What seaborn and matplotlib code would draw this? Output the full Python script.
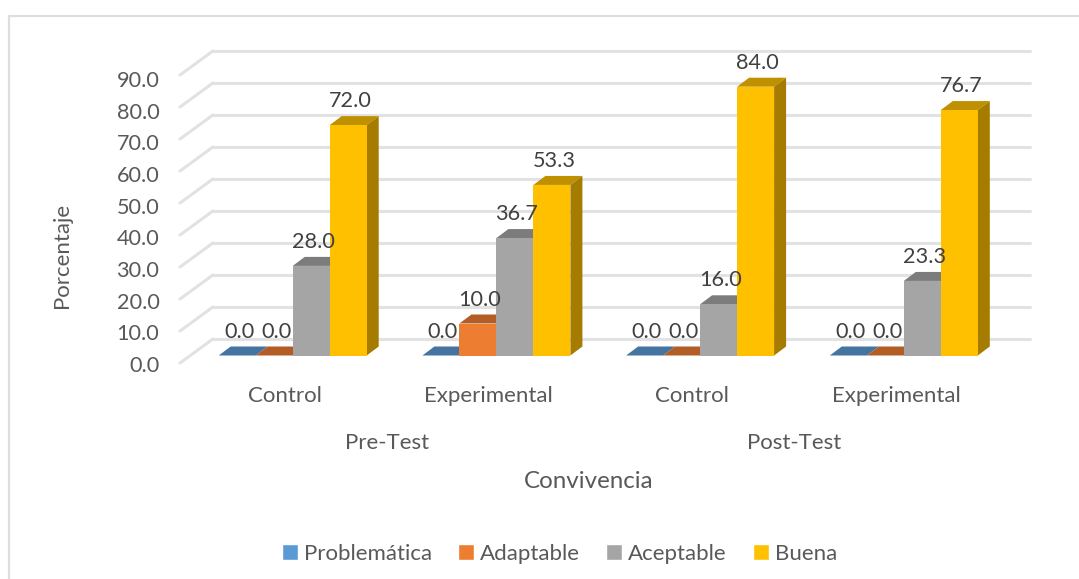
"""Grouped bar chart of Convivencia levels, drawn with a fake Excel-style 3D depth."""
import matplotlib
matplotlib.use('Agg')
import matplotlib.pyplot as plt
from matplotlib.lines import Line2D
from matplotlib.patches import Polygon
import pandas as pd
import seaborn as sns

W, H = 1079, 579

groups = ["Pre-Test Control", "Pre-Test Experimental", "Post-Test Control", "Post-Test Experimental"]
group_labels = ["Control", "Experimental", "Control", "Experimental"]
stages = ["Pre-Test", "Post-Test"]
levels = ["Problemática", "Adaptable", "Aceptable", "Buena"]
problematica = [0.0, 0.0, 0.0, 0.0]
adaptable = [0.0, 10.0, 0.0, 0.0]
aceptable = [28.0, 36.7, 16.0, 23.3]
buena = [72.0, 53.3, 84.0, 76.7]
y_ticks = [0, 10, 20, 30, 40, 50, 60, 70, 80, 90]

front_colors = ["#5B9BD5", "#ED7D31", "#A5A5A5", "#FFC000"]
top_colors = ["#44749F", "#B25D25", "#7C7C7C", "#BF9000"]
side_colors = ["#3A6A94", "#9E5321", "#6E6E6E", "#A67C00"]
grid_color = "#E2E2E2"
border_color = "#DEDEDE"
text_color = "#595959"


def px_rect(left, top, right, bottom):
    # axes rectangle from image pixels (y counted from the top)
    return [left / W, 1 - bottom / H, (right - left) / W, (bottom - top) / H]


sns.set_theme(style="white")
plt.rcParams['font.family'] = ['Lato', 'DejaVu Sans']

df = pd.DataFrame({
    "grupo": groups * 4,
    "nivel": [lv for lv in levels for _ in groups],
    "valor": problematica + adaptable + aceptable + buena,
})

fig = plt.figure(figsize=(W / 100, H / 100), dpi=100)
ax = fig.add_axes(px_rect(190.85, 67.5, 1005.65, 355.5))
sns.barplot(data=df, x="grupo", y="valor", hue="nivel", order=groups, hue_order=levels,
            palette=front_colors, saturation=1, width=0.7266, gap=0, ax=ax)
ax.set_xlim(-0.5, 3.5)
ax.set_ylim(0, 90)
ax.set_xlabel("")
ax.set_ylabel("")
ax.set_xticks([])
ax.set_yticks([])
ax.patch.set_visible(False)
sns.despine(ax=ax, left=True, bottom=True)

# back wall and left wall gridlines, shifted from the bar plane in pixels
for v in y_ticks:
    xa, ya = ax.transData.transform((-0.5, v))
    xb, _ = ax.transData.transform((3.5, v))
    yb = ya + 16.5
    fig.add_artist(Line2D([xa + 22, xb + 24], [yb, yb], transform=None, color=grid_color, lw=2.2, zorder=0))
    fig.add_artist(Line2D([xa - 10.85, xa + 22], [ya - 7.5, yb], transform=None, color=grid_color, lw=2.2, zorder=0))

# depth faces for each bar, left to right so neighbours overlap correctly
dx, dy = 12, 9
for h, cont in enumerate(ax.containers):
    for g, bar in enumerate(cont):
        z = 3 + g + h * 0.1
        bar.set_zorder(z + 0.01)
        bar.set_linewidth(0)
        (x0, y0) = ax.transData.transform((bar.get_x(), 0))
        (x1, y1) = ax.transData.transform((bar.get_x() + bar.get_width(), bar.get_height()))
        top = Polygon([(x0, y1), (x1, y1), (x1 + dx, y1 + dy), (x0 + dx, y1 + dy)],
                      transform=None, color=top_colors[h], lw=0, zorder=z)
        side = Polygon([(x1, y0), (x1 + dx, y0 + dy), (x1 + dx, y1 + dy), (x1, y1)],
                       transform=None, color=side_colors[h], lw=0, zorder=z)
        ax.add_artist(top)
        ax.add_artist(side)
        ax.annotate(f"{bar.get_height():.1f}", (bar.get_x() + bar.get_width() / 2, bar.get_height()),
                    xytext=(2, 24), textcoords="offset pixels", ha="center", va="center",
                    fontsize=15.6, color="#404040", zorder=20, annotation_clip=False)

# front plane: carries the axis text, drawn on its own scale
front = fig.add_axes(px_rect(183, 79, 998, 364))
front.patch.set_visible(False)
front.set_xlim(-0.5, 3.5)
front.set_ylim(0, 90)
front.set_yticks(y_ticks)
front.set_yticklabels([f"{v:.1f}" for v in y_ticks], fontsize=15.6, color=text_color)
front.set_xticks(range(4))
front.set_xticklabels(group_labels, fontsize=16, color=text_color)
front.tick_params(axis="both", length=0)
front.tick_params(axis="x", pad=16)
front.tick_params(axis="y", pad=17)
sns.despine(ax=front, left=True, bottom=True)
front.set_ylabel("Porcentaje", fontsize=16, color=text_color, va="center", ha="center")
front.yaxis.set_label_coords((62 - 183) / 815, (364 - 255) / 285)
front.set_xlabel("Convivencia", fontsize=17.4, color=text_color, va="center", ha="center")
front.xaxis.set_label_coords((588.5 - 183) / 815, (364 - 481.5) / 285)
for i, stage in enumerate(stages):
    front.annotate(stage, (i * 2 + 0.5, 0), xytext=(0, -79), textcoords="offset pixels",
                   ha="center", va="center", fontsize=16, color=text_color, annotation_clip=False)

sns.move_legend(ax, "center", bbox_to_anchor=(559.5 / W, 1 - 553.5 / H), bbox_transform=fig.transFigure,
                ncol=4, frameon=False, title=None, fontsize=16, labelcolor=text_color,
                handlelength=0.72, handleheight=0.72, handletextpad=0.28, columnspacing=1.17)

# chart area border: only the top and left edges are in the crop
fig.add_artist(Line2D([9 / W, 9 / W, 1], [0, 1 - 16 / H, 1 - 16 / H], color=border_color, lw=1.6))

fig.savefig("out.png", dpi=100)
plt.close(fig)
